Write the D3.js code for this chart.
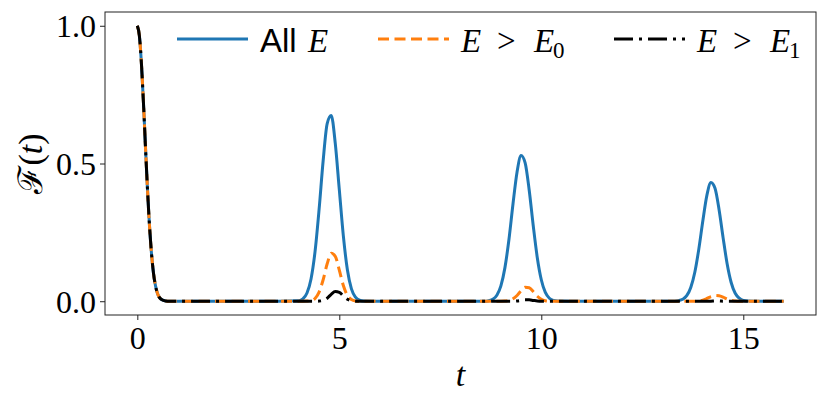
<!DOCTYPE html>
<html>
<head>
<meta charset="utf-8">
<script src="https://cdn.jsdelivr.net/npm/d3@7"></script>
<style>
  body { margin: 0; background: #fff; }
  svg { display: block; }
  .tick text { font-family: "Liberation Serif", serif; font-size: 32px; fill: #000; }
</style>
</head>
<body>
<svg id="chart" width="831" height="406"></svg>
<script>
// time samples (denser around the revivals)
const tVals = [
  0, 0.05, 0.1, 0.15, 0.2, 0.25, 0.3, 0.35, 0.4, 0.45, 0.5, 0.55, 0.6, 0.7, 0.8, 1.0, 2.0, 3.0,
  4.0, 4.1, 4.2, 4.3, 4.4, 4.5, 4.6, 4.7, 4.8, 4.9, 5.0, 5.1, 5.2, 5.3, 5.4, 5.5, 5.6,
  6.0, 7.0, 8.0, 8.6,
  8.7, 8.8, 8.9, 9.0, 9.1, 9.2, 9.3, 9.4, 9.5, 9.6, 9.7, 9.8, 9.9, 10.0, 10.1, 10.2, 10.3, 10.4,
  11, 12, 13, 13.3,
  13.4, 13.5, 13.6, 13.7, 13.8, 13.9, 14.0, 14.1, 14.2, 14.3, 14.4, 14.5, 14.6, 14.7, 14.8, 14.9, 15.0, 15.1,
  15.5, 16.0
]
// All E
const allE = [
  1.0, 0.965, 0.867, 0.726, 0.566, 0.411, 0.277, 0.175, 0.102, 0.056, 0.028, 0.013, 0.006, 0.001, 0.0001, 0, 0, 0,
  0.002, 0.009, 0.030, 0.081, 0.181, 0.334, 0.510, 0.645, 0.674, 0.573, 0.405, 0.237, 0.114, 0.045, 0.015, 0.004, 0.001,
  0, 0, 0, 0,
  0.002, 0.007, 0.022, 0.056, 0.122, 0.225, 0.354, 0.469, 0.529, 0.502, 0.404, 0.275, 0.159, 0.078, 0.032, 0.011, 0.003, 0.001,
  0, 0, 0, 0.0003,
  0.002, 0.007, 0.020, 0.050, 0.105, 0.190, 0.293, 0.385, 0.431, 0.410, 0.333, 0.231, 0.136, 0.068, 0.029, 0.011, 0.003, 0.001,
  0, 0
]
// E > E0
const aboveE0 = [
  1.0, 0.965, 0.867, 0.726, 0.566, 0.411, 0.277, 0.175, 0.102, 0.056, 0.028, 0.013, 0.006, 0.001, 0.0001, 0, 0, 0,
  0, 0, 0.0004, 0.002, 0.010, 0.033, 0.078, 0.136, 0.174, 0.163, 0.113, 0.057, 0.021, 0.006, 0.001, 0, 0,
  0, 0, 0, 0,
  0, 0, 0, 0, 0.0005, 0.003, 0.009, 0.021, 0.038, 0.051, 0.049, 0.035, 0.018, 0.007, 0.002, 0.0004, 0, 0,
  0, 0, 0, 0,
  0, 0, 0, 0, 0, 0.001, 0.004, 0.010, 0.017, 0.021, 0.020, 0.015, 0.008, 0.003, 0.001, 0, 0, 0,
  0, 0
]
// E > E1
const aboveE1 = [
  1.0, 0.965, 0.867, 0.726, 0.566, 0.411, 0.277, 0.175, 0.102, 0.056, 0.028, 0.013, 0.006, 0.001, 0.0001, 0, 0, 0,
  0, 0, 0, 0, 0, 0.0006, 0.003, 0.011, 0.025, 0.035, 0.032, 0.019, 0.007, 0.002, 0.0002, 0, 0,
  0, 0, 0, 0,
  0, 0, 0, 0, 0, 0, 0, 0.001, 0.003, 0.005, 0.005, 0.003, 0.001, 0, 0, 0, 0, 0,
  0, 0, 0, 0,
  0, 0, 0, 0, 0, 0, 0, 0, 0, 0.001, 0.001, 0, 0, 0, 0, 0, 0, 0,
  0, 0
]
const xTicks = [0, 5, 10, 15]
const yTicks = [0, 0.5, 1.0]

const series = [
  {key: "all", vals: allE, color: "#1f77b4", dash: null},
  {key: "e0", vals: aboveE0, color: "#ff7f0e", dash: "11,5.5"},
  {key: "e1", vals: aboveE1, color: "#000000", dash: "19,6,3,6"}
]

const svg = d3.select("#chart")
const box = {l: 105, r: 816, t: 12, b: 315}

const x = d3.scaleLinear().domain([-0.8, 16.8]).range([box.l, box.r])
const y = d3.scaleLinear().domain([-0.05, 1.05]).range([box.b, box.t])

//curves
const line = d3.line().x(d => x(d[0])).y(d => y(d[1])).curve(d3.curveMonotoneX)
const g = svg.append("g").attr("class", "lines")
series.forEach(s => {
  g.append("path")
    .datum(tVals.map((t, i) => [t, s.vals[i]]))
    .attr("d", line)
    .attr("fill", "none")
    .attr("stroke", s.color)
    .attr("stroke-width", 3)
    .attr("stroke-dasharray", s.dash)
    .attr("stroke-linejoin", "round")
})

//axes
const xAxis = svg.append("g").attr("transform", `translate(0,${box.b})`)
  .call(d3.axisBottom(x).tickValues(xTicks).tickFormat(d3.format("d")).tickSize(5).tickPadding(6))
const yAxis = svg.append("g").attr("transform", `translate(${box.l},0)`)
  .call(d3.axisLeft(y).tickValues(yTicks).tickFormat(d3.format(".1f")).tickSize(5).tickPadding(4))
;[xAxis, yAxis].forEach(a => {
  a.select(".domain").remove()
  a.selectAll(".tick line").attr("stroke", "#222").attr("stroke-width", 1)
})
yAxis.selectAll(".tick text").attr("dy", "0.35em")

//frame
svg.append("rect")
  .attr("x", box.l).attr("y", box.t)
  .attr("width", box.r - box.l).attr("height", box.b - box.t)
  .attr("fill", "none").attr("stroke", "#222").attr("stroke-width", 1)

//axis labels
svg.append("text")
  .attr("x", (box.l + box.r) / 2).attr("y", 386)
  .attr("text-anchor", "middle")
  .style("font-family", "Liberation Serif, serif").style("font-size", "34px").style("font-style", "italic")
  .text("t")
const yl = svg.append("text")
  .attr("transform", `translate(42,${(box.t + box.b) / 2}) rotate(-90)`)
  .attr("text-anchor", "middle")
  .style("font-family", "Liberation Serif, serif").style("font-size", "34px")
yl.append("tspan").text("ℱ(")
yl.append("tspan").style("font-style", "italic").text("t")
yl.append("tspan").text(")")

//legend: pieces of each label with their offset from the text start
const legendLabels = [
  [{t: "All", f: "Liberation Sans, sans-serif", o: 0}, {t: "E", i: 1, o: 48}],
  [{t: "E", i: 1, o: 0}, {t: ">", o: 36}, {t: "E", i: 1, o: 73}, {t: "0", sub: 1, o: 92}],
  [{t: "E", i: 1, o: 0}, {t: ">", o: 36}, {t: "E", i: 1, o: 73}, {t: "1", sub: 1, o: 92}]
]
const legendX = [177, 378, 614]
const lg = svg.append("g").attr("class", "legend")
const ly = 39, handleLen = 71
series.forEach((s, k) => {
  const lx = legendX[k]
  lg.append("line")
    .attr("x1", lx).attr("x2", lx + handleLen).attr("y1", ly).attr("y2", ly)
    .attr("stroke", s.color).attr("stroke-width", 3)
    .attr("stroke-dasharray", s.dash)
  legendLabels[k].forEach(p => {
    const tx = lg.append("text")
      .attr("x", lx + handleLen + 12 + p.o).attr("y", ly + 13 + (p.sub ? 6 : 0))
      .style("font-family", p.f || "Liberation Serif, serif")
      .style("font-size", p.sub ? "23px" : "33px")
      .text(p.t)
    if (p.i) tx.style("font-style", "italic")
  })
})
</script>
</body>
</html>
